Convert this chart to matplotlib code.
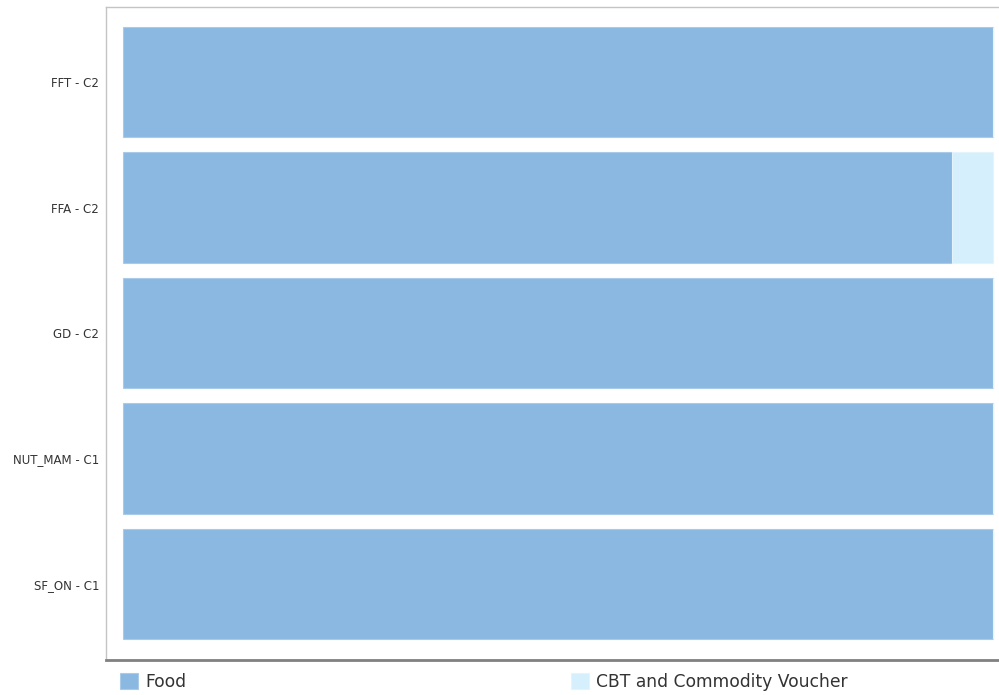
import matplotlib
matplotlib.use("Agg")
import matplotlib.pyplot as plt
import numpy as np

categories = ["FFT - C2", "FFA - C2", "GD - C2", "NUT_MAM - C1", "SF_ON - C1"]
food = [100.0, 95.3, 100.0, 100.0, 100.0]
cbt = [0.0, 4.7, 0.0, 0.0, 0.0]

food_color = "#8bb8e1"
cbt_color = "#d6effc"

fig = plt.figure(figsize=(9.99, 6.95), dpi=100)
ax = fig.add_axes([106 / 999, 35 / 695, 893 / 999, 653 / 695])

y = np.arange(len(categories))
b1 = ax.barh(y, food, height=0.877, color=food_color, edgecolor="#a9cbe9",
             linewidth=0.8, label="Food")
b2 = ax.barh(y, cbt, left=food, height=0.877, color=cbt_color,
             edgecolor="#e4f4fd", linewidth=0.8, label="CBT and Commodity Voucher")

ax.set_xlim(-1.95, 100.7)
ax.set_ylim(4.606, -0.598)
ax.set_yticks(y)
ax.set_yticklabels(categories, fontsize=8.5, color="#333333")
ax.tick_params(axis="y", length=0, pad=5)
ax.set_xticks([])

for side in ["left", "top"]:
    ax.spines[side].set_color("#c4c4c4")
    ax.spines[side].set_linewidth(1)
ax.spines["right"].set_visible(False)
ax.spines["bottom"].set_color("#808080")
ax.spines["bottom"].set_linewidth(2)

# two separate legend entries along the bottom
fig.legend(handles=[b1], loc="center left", bbox_to_anchor=(105 / 999, 13 / 695),
           frameon=False, fontsize=12.3, handlelength=1.05, handleheight=1.05,
           handletextpad=0.4, labelcolor="#333333")
fig.legend(handles=[b2], loc="center left", bbox_to_anchor=(556 / 999, 13 / 695),
           frameon=False, fontsize=12.3, handlelength=1.05, handleheight=1.05,
           handletextpad=0.4, labelcolor="#333333")

fig.savefig("out.png", dpi=100)
